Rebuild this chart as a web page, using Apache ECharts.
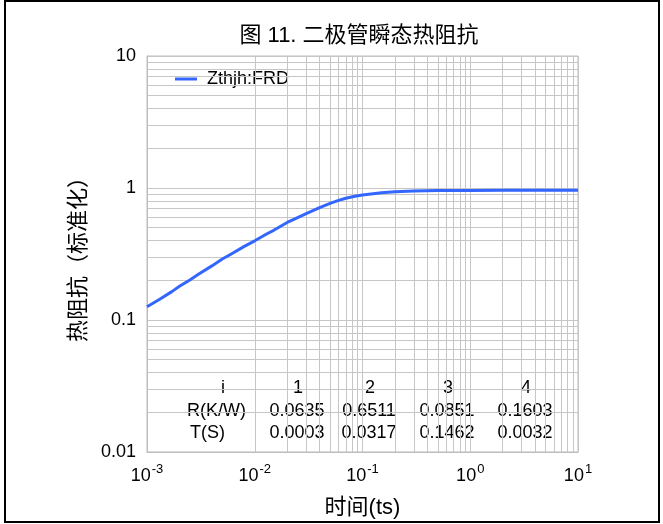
<!DOCTYPE html>
<html>
<head>
<meta charset="utf-8">
<script src="https://cdn.jsdelivr.net/npm/echarts@6/dist/echarts.min.js"></script>
<style>html,body{margin:0;padding:0;background:#fff}#c{width:663px;height:524px}</style>
</head>
<body>
<div id="c"></div>
<script>
// ---- data ----
const seriesName = 'Zthjh:FRD';
const timeSec = [0.001, 0.0013, 0.0017, 0.002, 0.0025, 0.003, 0.004, 0.005, 0.006, 0.008, 0.01, 0.013, 0.015, 0.02, 0.025, 0.03, 0.04, 0.05, 0.06, 0.07, 0.085, 0.1, 0.15, 0.2, 0.3, 0.5, 0.7, 1, 2, 5, 10];
const zthNorm = [0.126, 0.143, 0.164, 0.180, 0.201, 0.222, 0.257, 0.290, 0.315, 0.361, 0.398, 0.450, 0.478, 0.548, 0.597, 0.640, 0.710, 0.765, 0.805, 0.836, 0.865, 0.886, 0.921, 0.936, 0.949, 0.956, 0.958, 0.959, 0.960, 0.960, 0.960];
const xTickExponents = ['-3', '-2', '-1', '0', '1'];
const yTickLabels = ['0.01', '0.1', '1', '10'];
const tableRowHeads = ['i', 'R(K/W)', 'T(S)'];
const tableIndex = ['1', '2', '3', '4'];
const tableR = ['0.0635', '0.6511', '0.0851', '0.1603'];
const tableT = ['0.0003', '0.0317', '0.1462', '0.0032'];
const titleText = '图 11. 二极管瞬态热阻抗';
const xName = '时间(ts)';
const yName = '热阻抗（标准化）';

// ---- styles / layout ----
const FONT = "'Liberation Sans', 'Noto Sans CJK SC', sans-serif";
const GRID_COLOR = '#c6c6c6';
const LINE_BLUE = '#3366ff';
const xMin = 0.001, xMax = 10, yMin = 0.01, yMax = 10;

// minor log grid lines (2..9 within each decade)
const minorX = [], minorY = [];
for (let d = -3; d < 1; d++) for (let k = 2; k <= 9; k++) minorX.push(k * Math.pow(10, d));
for (let d = -2; d < 1; d++) for (let k = 2; k <= 9; k++) minorY.push(k * Math.pow(10, d));
const gridMarks = minorX.map(v => ({ xAxis: v })).concat(minorY.map(v => ({ yAxis: v })));

const chart = echarts.init(document.getElementById('c'), null, { renderer: 'canvas' });

const gL = 147, gT = 56, gW = 431, gH = 397;

// table text positions (layout)
const colX = [297, 369, 447, 525];
const rowY = [388, 411, 433];
const tableGraphics = [];
tableGraphics.push({ type: 'text', x: 223, y: rowY[0], style: { text: tableRowHeads[0], fontSize: 18, fontFamily: FONT, fill: '#000', textAlign: 'center', textVerticalAlign: 'middle' } });
tableGraphics.push({ type: 'text', x: 187, y: rowY[1], style: { text: tableRowHeads[1], fontSize: 18, fontFamily: FONT, fill: '#000', textAlign: 'left', textVerticalAlign: 'middle' } });
tableGraphics.push({ type: 'text', x: 190, y: rowY[2], style: { text: tableRowHeads[2], fontSize: 18, fontFamily: FONT, fill: '#000', textAlign: 'left', textVerticalAlign: 'middle' } });
[tableIndex, tableR, tableT].forEach((row, r) => {
  row.forEach((txt, c) => {
    tableGraphics.push({ type: 'text', x: colX[c] + (r === 0 ? 1 : 0), y: rowY[r], style: { text: txt, fontSize: 18, fontFamily: FONT, fill: '#000', textAlign: 'center', textVerticalAlign: 'middle' } });
  });
});

const option = {
  backgroundColor: '#fff',
  animation: false,
  title: {
    text: titleText,
    left: 359,
    top: 25,
    padding: 0,
    textAlign: 'center',
    textStyle: { fontFamily: FONT, fontSize: 22, fontWeight: 'normal', color: '#000' }
  },
  legend: {
    data: [{ name: seriesName, icon: 'rect' }],
    left: 168,
    top: 67,
    padding: [3, 9, 3, 7],
    backgroundColor: '#fff',
    itemWidth: 22,
    itemHeight: 3,
    formatter: n => ' ' + n,
    textStyle: { fontFamily: FONT, fontSize: 18, color: '#000' }
  },
  grid: { left: gL, top: gT, width: gW, height: gH, show: true, borderColor: '#bcbcbc', borderWidth: 1 },
  xAxis: {
    type: 'log', logBase: 10, min: xMin, max: xMax,
    name: xName, nameLocation: 'middle', nameGap: 45,
    nameTextStyle: { fontFamily: FONT, fontSize: 22, color: '#000' },
    axisLine: { show: true, lineStyle: { color: '#bcbcbc' } },
    axisTick: { show: false },
    splitLine: { show: true, lineStyle: { color: GRID_COLOR, width: 1 } },
    axisLabel: {
      margin: 11,
      formatter: function (v) {
        const i = Math.round(Math.log10(v)) + 3;
        return '{b|10}{s|' + xTickExponents[i] + '}';
      },
      rich: {
        b: { fontFamily: FONT, fontSize: 18, color: '#000', lineHeight: 22, verticalAlign: 'bottom' },
        s: { fontFamily: FONT, fontSize: 13, color: '#000', lineHeight: 22, verticalAlign: 'top', padding: [0, 0, 0, 1] }
      }
    }
  },
  yAxis: {
    type: 'log', logBase: 10, min: yMin, max: yMax,
    name: yName, nameLocation: 'middle', nameGap: 57, nameRotate: 90,
    nameTextStyle: { fontFamily: FONT, fontSize: 22, color: '#000' },
    axisLine: { show: true, lineStyle: { color: '#bcbcbc' } },
    axisTick: { show: false },
    splitLine: { show: true, lineStyle: { color: GRID_COLOR, width: 1 } },
    axisLabel: {
      margin: 11,
      fontFamily: FONT, fontSize: 18, color: '#000',
      formatter: function (v) {
        const i = Math.round(Math.log10(v)) + 2;
        return yTickLabels[i];
      }
    }
  },
  series: [
    {
      name: '_grid', type: 'line', data: [[xMin, yMin]], symbol: 'none', silent: true, z: 1,
      lineStyle: { opacity: 0 },
      markLine: {
        silent: true, symbol: ['none', 'none'], label: { show: false },
        lineStyle: { color: GRID_COLOR, type: 'solid', width: 1 },
        emphasis: { disabled: true },
        data: gridMarks, animation: false
      }
    },
    {
      name: seriesName, type: 'line', z: 5, symbol: 'none', showSymbol: false, smooth: false,
      data: timeSec.map((t, i) => [t, zthNorm[i]]),
      lineStyle: { color: LINE_BLUE, width: 3, join: 'round' },
      itemStyle: { color: LINE_BLUE }
    }
  ],
  graphic: [
    { type: 'rect', shape: { x: 5, y: 1, width: 654, height: 521 }, style: { fill: 'none', stroke: '#000', lineWidth: 2 }, silent: true, z: 100 }
  ].concat(tableGraphics)
};
chart.setOption(option);
</script>
</body>
</html>
